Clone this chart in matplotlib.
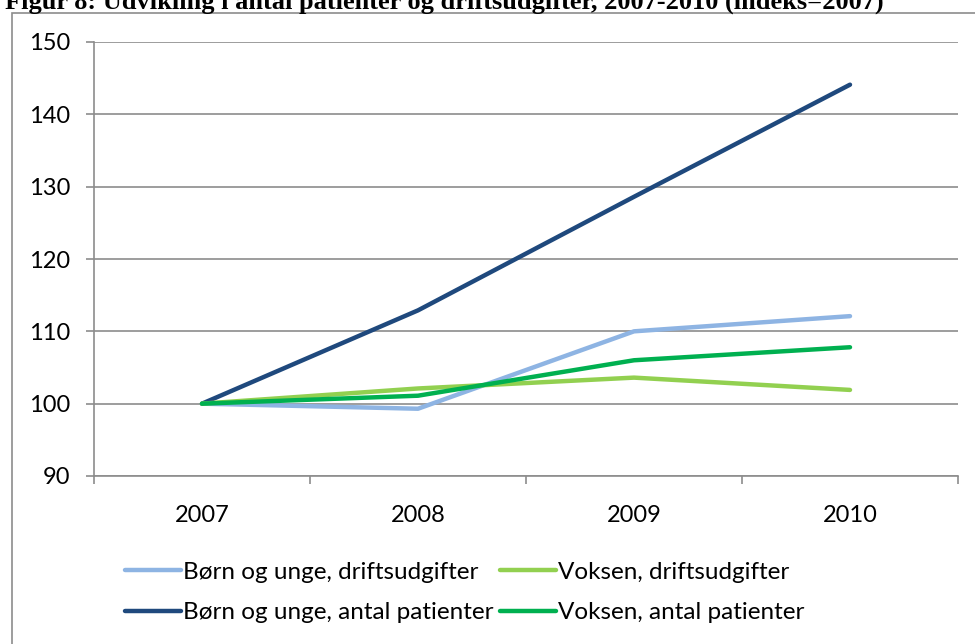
import matplotlib
matplotlib.use('Agg')
import matplotlib.pyplot as plt
from matplotlib.patches import Rectangle

years = ['2007', '2008', '2009', '2010']
born_udgifter = [100, 99.3, 110.0, 112.1]
voksen_udgifter = [100, 102.1, 103.6, 101.9]
born_patienter = [100, 112.9, 128.6, 144.1]
voksen_patienter = [100, 101.1, 106.0, 107.8]

title = 'Figur 8: Udvikling i antal patienter og driftsudgifter, 2007-2010 (indeks=2007)'

plt.rcParams['font.family'] = ['Lato', 'DejaVu Sans']

fig = plt.figure(figsize=(9.75, 6.44), dpi=100)
fig.patch.set_facecolor('white')

# outer chart frame, runs off the right and bottom of the picture
fig.patches.append(Rectangle((12 / 975, -0.05), 1.0, 1 - 13 / 644 + 0.05,
                             transform=fig.transFigure, fill=False,
                             edgecolor='#8c8c8c', linewidth=1.2))

fig.text(5 / 975, 1 - 9 / 644, title, family='Liberation Serif',
         fontweight='bold', fontsize=19, ha='left', va='baseline')

ax = fig.add_axes([94 / 975, 1 - 476 / 644, (958 - 94) / 975, (476 - 42) / 644])
x = range(len(years))
ax.plot(x, born_udgifter, color='#8EB4E3', lw=3.2, label='Børn og unge, driftsudgifter', solid_capstyle='round')
ax.plot(x, born_patienter, color='#1F497D', lw=3.2, label='Børn og unge, antal patienter', solid_capstyle='round')
ax.plot(x, voksen_udgifter, color='#92D050', lw=3.2, label='Voksen, driftsudgifter', solid_capstyle='round')
ax.plot(x, voksen_patienter, color='#00B050', lw=3.2, label='Voksen, antal patienter', solid_capstyle='round')

ax.set_xlim(-0.5, 3.5)
ax.set_ylim(90, 150)
ax.set_yticks(range(90, 151, 10))
ax.set_xticks(list(x))
ax.set_xticklabels(years)
ax.set_xticks([-0.5, 0.5, 1.5, 2.5, 3.5], minor=True)
ax.tick_params(axis='x', which='major', length=0, pad=21, labelsize=17)
ax.tick_params(axis='x', which='minor', length=6, width=1.2, color='#8c8c8c', direction='out')
ax.tick_params(axis='y', length=6, width=1.2, color='#8c8c8c', pad=11, labelsize=17)

ax.grid(axis='y', color='#8c8c8c', lw=1.2)
ax.set_axisbelow(True)
for s in ['top', 'right']:
    ax.spines[s].set_visible(False)
for s in ['left', 'bottom']:
    ax.spines[s].set_color('#8c8c8c')
    ax.spines[s].set_linewidth(1.2)

fig.legend(loc='upper left', bbox_to_anchor=(115 / 975, 1 - 552 / 644), ncol=2,
           frameon=False, fontsize=17.5, handlelength=2.3, handletextpad=0.1,
           columnspacing=0.25, labelspacing=0.8, borderaxespad=0)

fig.savefig('out.png', dpi=100)
